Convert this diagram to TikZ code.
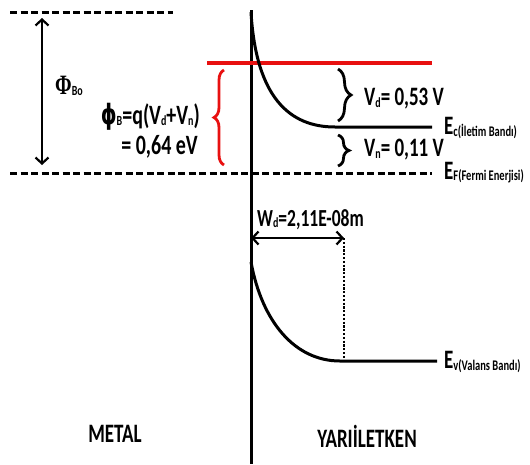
\documentclass[tikz,border=0pt]{standalone}
\usepackage{fontspec}
\usepackage{graphicx}
\setmainfont{Carlito}
\newfontfamily\symfont{DejaVu Sans}
\newfontfamily\serfont{Liberation Serif}
\usetikzlibrary{arrows.meta,decorations.pathreplacing}

\definecolor{barrierred}{RGB}{232,16,16}
\newcommand{\lo}[1]{\raisebox{-0.8pt}{\fontsize{10}{11}\selectfont #1}}
\newcommand{\lotext}[1]{\raisebox{-0.8pt}{\fontsize{10.5}{11}\selectfont #1}}
\newcommand{\tall}[1]{\scalebox{1}[1.4]{#1}}

\tikzset{
  band/.style={line width=3pt},
  fermi/.style={line width=3pt,dash pattern=on 7pt off 3.5pt},
  dimarrow/.style={line width=2.2pt,
    {Straight Barb[length=6pt,width=13pt]}-{Straight Barb[length=6pt,width=13pt]}},
  bracebox/.style={line width=2.8pt,decorate,decoration={brace,amplitude=#1}},
  lbl/.style={font=\fontsize{19}{21}\selectfont\bfseries,inner sep=0pt},
}

\begin{document}
\begin{tikzpicture}[x=1pt,y=-1pt]
\useasboundingbox (0,0) rectangle (530,464);

% junction and levels
\coordinate (jtop) at (251,10);
\coordinate (jbot) at (251,464);
\draw[band] (jtop) -- (jbot);
\draw[fermi] (10,12) -- (173,12);
\draw[fermi] (10,173) -- (432,173);
\draw[dimarrow] (42,18) -- (42,165);

% barrier top
\draw[barrierred,line width=3.2pt] (207,63) -- (432,63);
\draw[bracebox=10pt,barrierred] (224,165) -- (224,70);

% conduction band
\draw[band] (251,12) .. controls (256,98) and (290,127) .. (335,127) -- (432,127);
\draw[bracebox=13pt] (338,69) -- (338,121);
\draw[bracebox=11pt] (338,135) -- (338,166);

% valence band
\draw[band] (251,262) .. controls (262,322) and (295,361) .. (340,361) -- (437,361);
\draw[dimarrow] (251,238) -- (344,238);
\draw[line width=2.4pt,dash pattern=on 2.2pt off 1.6pt] (344,238) -- (344,359);

% labels
\node[lbl,anchor=west] (phiBo) at (55,86) {\tall{{\serfont\fontsize{20}{21}\selectfont Φ}\lo{Bo}}};
\node[lbl,anchor=east,font=\fontsize{20}{22}\selectfont\bfseries] (phiB) at (200,117) {\tall{{\symfont ϕ}\lo{B}=q(V\lo{d}+V\lo{n})}};
\node[lbl,anchor=east,font=\fontsize{20}{22}\selectfont\bfseries] (phival) at (198,147) {\tall{= 0,64 eV}};
\node[lbl,anchor=west] (vd) at (364,99) {\tall{V\lo{d}= 0,53 V}};
\node[lbl,anchor=west] (vn) at (364,150) {\tall{V\lo{n}= 0,11 V}};
\node[lbl,anchor=west] (ec) at (444,128) {\tall{E\lotext{c(İletim Bandı)}}};
\node[lbl,anchor=west] (ef) at (444,173) {\tall{E\lotext{F(Fermi Enerjisi)}}};
\node[lbl,anchor=west] (ev) at (444,362) {\tall{E\lotext{v(Valans Bandı)}}};
\node[lbl,anchor=west,font=\fontsize{17.5}{19}\selectfont\bfseries] (wd) at (257,220) {\tall{W\lo{d}=2,11E-08m}};
\node[lbl] (metal) at (115,434) {\tall{METAL}};
\node[lbl] (semi) at (367,436) {\tall{YARIİLETKEN}};
\end{tikzpicture}
\end{document}
